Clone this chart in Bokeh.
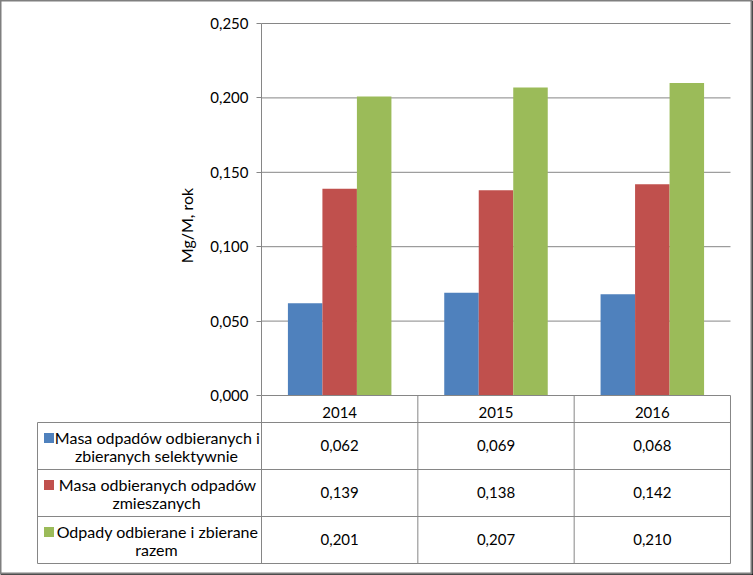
from bokeh.plotting import figure
from bokeh.models import (Range1d, LinearAxis, FixedTicker, CustomJSTickFormatter,
                          Label)
from bokeh.core.properties import value
from bokeh.embed import file_html
from bokeh.resources import INLINE

# ---------------- data ----------------
years = ["2014", "2015", "2016"]
series_names = [
    ["Masa odpadów odbieranych i", "zbieranych selektywnie"],
    ["Masa odbieranych odpadów", "zmieszanych"],
    ["Odpady odbierane i zbierane", "razem"],
]
selektywnie = [0.062, 0.069, 0.068]
zmieszane = [0.139, 0.138, 0.142]
razem = [0.201, 0.207, 0.210]
y_ticks = [0.0, 0.05, 0.10, 0.15, 0.20, 0.25]
y_label = "Mg/M, rok"

series = [selektywnie, zmieszane, razem]
colors = ["#4F81BD", "#C0504D", "#9BBB59"]

# ---------------- layout (pixels -> data) ----------------
W, H = 753, 575
FW, FH = 751, 573          # frame size (2 px dark shadow right/bottom)
X0_PX, UX = 261.0, 156.33  # x=0 position and px per category
Y0_PX, UY = 395.0, 1488.0  # y=0 position and px per unit value


def dx(px):
    return (px - X0_PX) / UX


def dy(px):
    return (Y0_PX - px) / UY


FONT = "Lato"
FS = "15px"
FS_LEG = "16px"
GRAY = "#868686"

p = figure(width=W, height=H, output_backend="svg", toolbar_location=None,
           x_range=Range1d(dx(0), dx(FW)), y_range=Range1d(dy(FH), dy(0)),
           x_axis_type=None, y_axis_type=None,
           min_border_left=0, min_border_top=0,
           min_border_right=W - FW, min_border_bottom=H - FH,
           border_fill_color="#1a1a1a", background_fill_color="white",
           outline_line_color="#7f7f7f", outline_line_width=2,
           styles={"position": "absolute", "left": "0px", "top": "0px"})

n = len(years)

# gridlines
grid_y = [t for t in y_ticks if t > 0]
p.segment(x0=[0] * len(grid_y), x1=[n] * len(grid_y), y0=grid_y, y1=grid_y,
          line_color=GRAY, line_width=1)

# bars
bw = 0.2207
for k, (vals, col) in enumerate(zip(series, colors)):
    xs = [i + 0.5 + (k - 1) * bw for i in range(n)]
    p.vbar(x=xs, top=vals, width=bw, bottom=0, fill_color=col, line_color=None)

# y axis
yax = LinearAxis(fixed_location=0, bounds=(0, y_ticks[-1]),
                 ticker=FixedTicker(ticks=y_ticks),
                 formatter=CustomJSTickFormatter(code="return tick.toFixed(3).replace('.', ',');"))
yax.axis_line_color = GRAY
yax.major_tick_line_color = GRAY
yax.major_tick_in = 0
yax.major_tick_out = 5
yax.minor_tick_line_color = None
yax.major_label_standoff = 8
yax.major_label_text_font = FONT
yax.major_label_text_font_size = FS
yax.major_label_text_color = "black"
p.add_layout(yax, "left")

# x axis (year header)
xax = LinearAxis(fixed_location=0, bounds=(0, n),
                 ticker=FixedTicker(ticks=[i + 0.5 for i in range(n)]),
                 major_label_overrides={i + 0.5: y for i, y in enumerate(years)})
xax.axis_line_color = GRAY
xax.major_tick_line_color = None
xax.minor_tick_line_color = None
xax.major_label_standoff = 5
xax.major_label_text_font = FONT
xax.major_label_text_font_size = FS
xax.major_label_text_color = "black"
p.add_layout(xax, "below")

# y label
p.add_layout(Label(x=dx(186), y=dy(225), text=y_label, angle=1.5708,
                   text_align="center", text_baseline="middle",
                   text_font=FONT, text_font_size=FS_LEG, text_color="black"))

# ---------------- data table ----------------
header_bottom = 422
row_h = 47
row_edges = [header_bottom + r * row_h for r in range(len(series) + 1)]
leg_left = dx(37)

hy = [dy(e) for e in row_edges]
p.segment(x0=[leg_left] * len(hy), x1=[n] * len(hy), y0=hy, y1=hy,
          line_color=GRAY, line_width=1)
vx = [leg_left] + list(range(0, n + 1))
vy0 = [dy(row_edges[0])] + [0] * (n + 1)
p.segment(x0=vx, x1=vx, y0=vy0, y1=[dy(row_edges[-1])] * len(vx),
          line_color=GRAY, line_width=1)

# values
vx_list, vy_list, vt_list = [], [], []
for r, vals in enumerate(series):
    yc = dy((row_edges[r] + row_edges[r + 1]) / 2 - 1)
    for i, v in enumerate(vals):
        vx_list.append(i + 0.5)
        vy_list.append(yc)
        vt_list.append(f"{v:.3f}".replace(".", ","))
p.text(x=vx_list, y=vy_list, text=vt_list, text_align="center",
       text_baseline="middle", text_font=value(FONT), text_font_size=FS,
       text_color="black")

# legend cells
lx, ly, lt = [], [], []
sq_x, sq_y = [], []
for r, names in enumerate(series_names):
    yc = (row_edges[r] + row_edges[r + 1]) / 2
    lx += [dx(157), dx(156)]
    ly += [dy(yc - 9), dy(yc + 9)]
    lt += names
    sq_x.append(dx(48.5))
    sq_y.append(dy(yc - 8))
p.text(x=lx, y=ly, text=lt, text_align="center", text_baseline="middle",
       text_font=value(FONT), text_font_size=FS_LEG, text_color="black")
p.scatter(x=sq_x, y=sq_y, marker="square", size=10, fill_color=colors,
          line_color=None)

open("out.html", "w").write(file_html(p, INLINE))
